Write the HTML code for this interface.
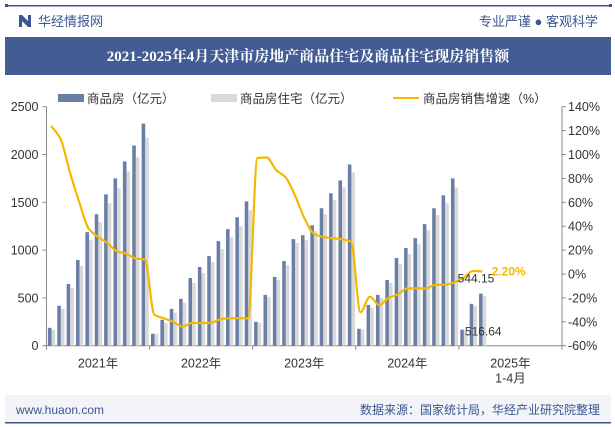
<!DOCTYPE html>
<html><head><meta charset="utf-8">
<style>
body{margin:0;background:#fff;font-family:"Liberation Sans","Noto Sans CJK SC",sans-serif;}
#wrap{position:relative;width:615px;height:427px;overflow:hidden;background:#fff;}
</style></head>
<body>
<div id="wrap">
<svg id="svg" width="615" height="427" xmlns="http://www.w3.org/2000/svg" font-family="Liberation Sans, Noto Sans CJK SC, sans-serif">
  <g>
    <rect x="5" y="5" width="607" height="1.5" fill="#3a5590"/>
    <rect x="5" y="4" width="3" height="3" fill="#3a5590"/>
    <rect x="609" y="4" width="3" height="3" fill="#3a5590"/>
    <g>
      <rect x="19" y="15" width="3" height="12" fill="#3a5590"/>
      <rect x="28" y="15" width="3" height="12" fill="#3a5590"/>
      <polygon points="22,15 28,21 28,27 22,21" fill="#3a5590"/>
    </g>
    <text x="38" y="26" font-size="13" fill="#3a5590">华经情报网</text>
    <text x="598" y="26" font-size="13" fill="#3a5590" text-anchor="end">专业严谨 ● 客观科学</text>
    <rect x="5" y="37" width="606" height="38" fill="#435c93"/>
    <text x="308" y="61" font-size="15" font-weight="bold" fill="#fff" text-anchor="middle" font-family="Liberation Serif, Noto Serif CJK SC, serif">2021-2025年4月天津市房地产商品住宅及商品住宅现房销售额</text>
  </g>
  <g font-size="12.5" fill="#333">
    <g><rect x="58" y="94" width="26" height="8" fill="#6a7ea6"/><text x="87" y="103">商品房（亿元）</text></g>
    <g><rect x="211" y="94" width="26" height="8" fill="#d9d9d9"/><text x="240" y="103">商品房住宅（亿元）</text></g>
    <g><rect x="393" y="97" width="26" height="2" fill="#f5b800"/><text x="423" y="103">商品房销售增速（%）</text></g>
  </g>
  <g id="plot"></g>
  <g>
    <rect x="5" y="395" width="606" height="27" fill="#f2f4f8"/>
    <rect x="5" y="422" width="606" height="1.5" fill="#3a5590"/>
    <text x="16" y="414" font-size="12" fill="#3a5590">www.huaon.com</text>
    <text x="600" y="414" font-size="12" fill="#3a5590" text-anchor="end">数据来源：国家统计局，华经产业研究院整理</text>
  </g>
</svg>
</div>
<script>
const years = ["2021年","2022年","2023年","2024年","2025年"];
const commercial = [187,417,646,896,1188,1375,1583,1750,1927,2094,2323,
 125,271,385,490,708,823,938,1094,1219,1344,1510,
 250,531,719,885,1115,1156,1260,1438,1594,1729,1896,
 177,427,531,688,917,1021,1125,1271,1438,1573,1750,
 167,438,544.15];
const residential = [167,385,604,833,1104,1292,1490,1646,1823,1969,2177,
 125,240,344,448,656,760,875,1010,1135,1250,1417,
 240,510,688,844,1073,1104,1198,1375,1521,1656,1813,
 167,396,500,656,854,958,1063,1208,1365,1490,1656,
 156,417,516.64];
const growth = [124,113,85,60,38,31,26,19,17,13,12,
 -34,-37,-40,-44,-41,-41,-41,-38,-37,-37,-37,
 97,97.5,87,81,66,47,34,31,30,29,27,
 -32,-19,-26,-20,-17,-12,-12,-12,-9,-9,-7,
 -3,2.5,2.2];
const leftTicks = [0,500,1000,1500,2000,2500];
const rightTicks = [-60,-40,-20,0,20,40,60,80,100,120,140];

const NS="http://www.w3.org/2000/svg";
const plot=document.getElementById('plot');
const X0=46.5, X1=562, Y0=345.7, Y1=106.7, SLOTS=55;
const slotW=(X1-X0)/SLOTS;
const yL=v=>Y0-(v/2500)*(Y0-Y1);
const yR=v=>Y0-((v+60)/200)*(Y0-Y1);
const slotX=i=>X0+(Math.floor(i/11)*11+(i<44?i%11:i-44))*slotW;
function mk(tag,attrs,parent){const e=document.createElementNS(NS,tag);for(const k in attrs)e.setAttribute(k,attrs[k]);(parent||plot).appendChild(e);return e;}

let ax=mk('line',{x1:X0,y1:Y1,x2:X0,y2:Y0,stroke:'#888'});


ax=mk('line',{x1:X1,y1:Y1,x2:X1,y2:Y0,stroke:'#888'});


ax=mk('line',{x1:X0,y1:Y0,x2:X1,y2:Y0,stroke:'#888'});


leftTicks.forEach(v=>{
  mk('line',{x1:X0-4,y1:yL(v),x2:X0,y2:yL(v),stroke:'#888'});
  const t=mk('text',{x:X0-8,y:yL(v)+4.5,'font-size':12.5,fill:'#333','text-anchor':'end'});
  t.textContent=v;
  
  
});
rightTicks.forEach(v=>{
  mk('line',{x1:X1,y1:yR(v),x2:X1+4,y2:yR(v),stroke:'#888'});
  const t=mk('text',{x:X1+6,y:yR(v)+4.5,'font-size':12.5,fill:'#333'});
  t.textContent=v+'%';
  
  
});
years.forEach((y,k)=>{
  const xs=X0+k*11*slotW;
  mk('line',{x1:xs,y1:Y0,x2:xs,y2:Y0+4,stroke:'#888'});
  const t=mk('text',{x:xs+5.5*slotW,y:Y0+22,'font-size':12.5,fill:'#333','text-anchor':'middle'});
  t.textContent=y;
  
  
});
mk('line',{x1:X1,y1:Y0,x2:X1,y2:Y0+4,stroke:'#888'});
let sub=mk('text',{x:X0+49.5*slotW,y:Y0+37,'font-size':12.5,fill:'#333','text-anchor':'middle'});
sub.textContent='1-4月';



const bw=3.6;
commercial.forEach((v,i)=>{
  const x=slotX(i)+1.4;
  const r=mk('rect',{x:x,y:yL(v),width:bw,height:Y0-yL(v),fill:'#6a7ea6'});
  
  
  const w=residential[i];
  const r2=mk('rect',{x:x+bw,y:yL(w),width:bw,height:Y0-yL(w),fill:'#d9d9d9'});
  
  
});
// monotone cubic line
const pts=growth.map((v,i)=>[slotX(i)+slotW/2,yR(v)]);
const n0=pts.length, dk=[], m=[];
for(let i=0;i<n0-1;i++) dk.push((pts[i+1][1]-pts[i][1])/(pts[i+1][0]-pts[i][0]));
for(let i=0;i<n0;i++){
  if(i===0) m.push(dk[0]); else if(i===n0-1) m.push(dk[n0-2]);
  else if(dk[i-1]*dk[i]<=0) m.push(0);
  else m.push(2/(1/dk[i-1]+1/dk[i]));
}
let d='M'+pts[0][0]+','+pts[0][1];
for(let i=0;i<n0-1;i++){
  const h=(pts[i+1][0]-pts[i][0])/3;
  d+=` C${pts[i][0]+h},${pts[i][1]+m[i]*h} ${pts[i+1][0]-h},${pts[i+1][1]-m[i+1]*h} ${pts[i+1][0]},${pts[i+1][1]}`;
}
const ln=mk('path',{d:d,fill:'none',stroke:'#f5b800','stroke-width':2.2});


const n=commercial.length-1;
let lb=mk('text',{x:slotX(n)-20,y:yL(commercial[n])-11,'font-size':12,fill:'#333'});
lb.textContent=commercial[n].toFixed(2);


lb=mk('text',{x:slotX(n-2)+6,y:Y0-10,'font-size':12,fill:'#333'});
lb.textContent=residential[n].toFixed(2);


lb=mk('text',{x:slotX(n)+14,y:yR(growth[n])+4,'font-size':12,fill:'#f5b800','font-weight':'bold'});
lb.textContent=growth[n].toFixed(2)+'%';


</script>
</body></html>
